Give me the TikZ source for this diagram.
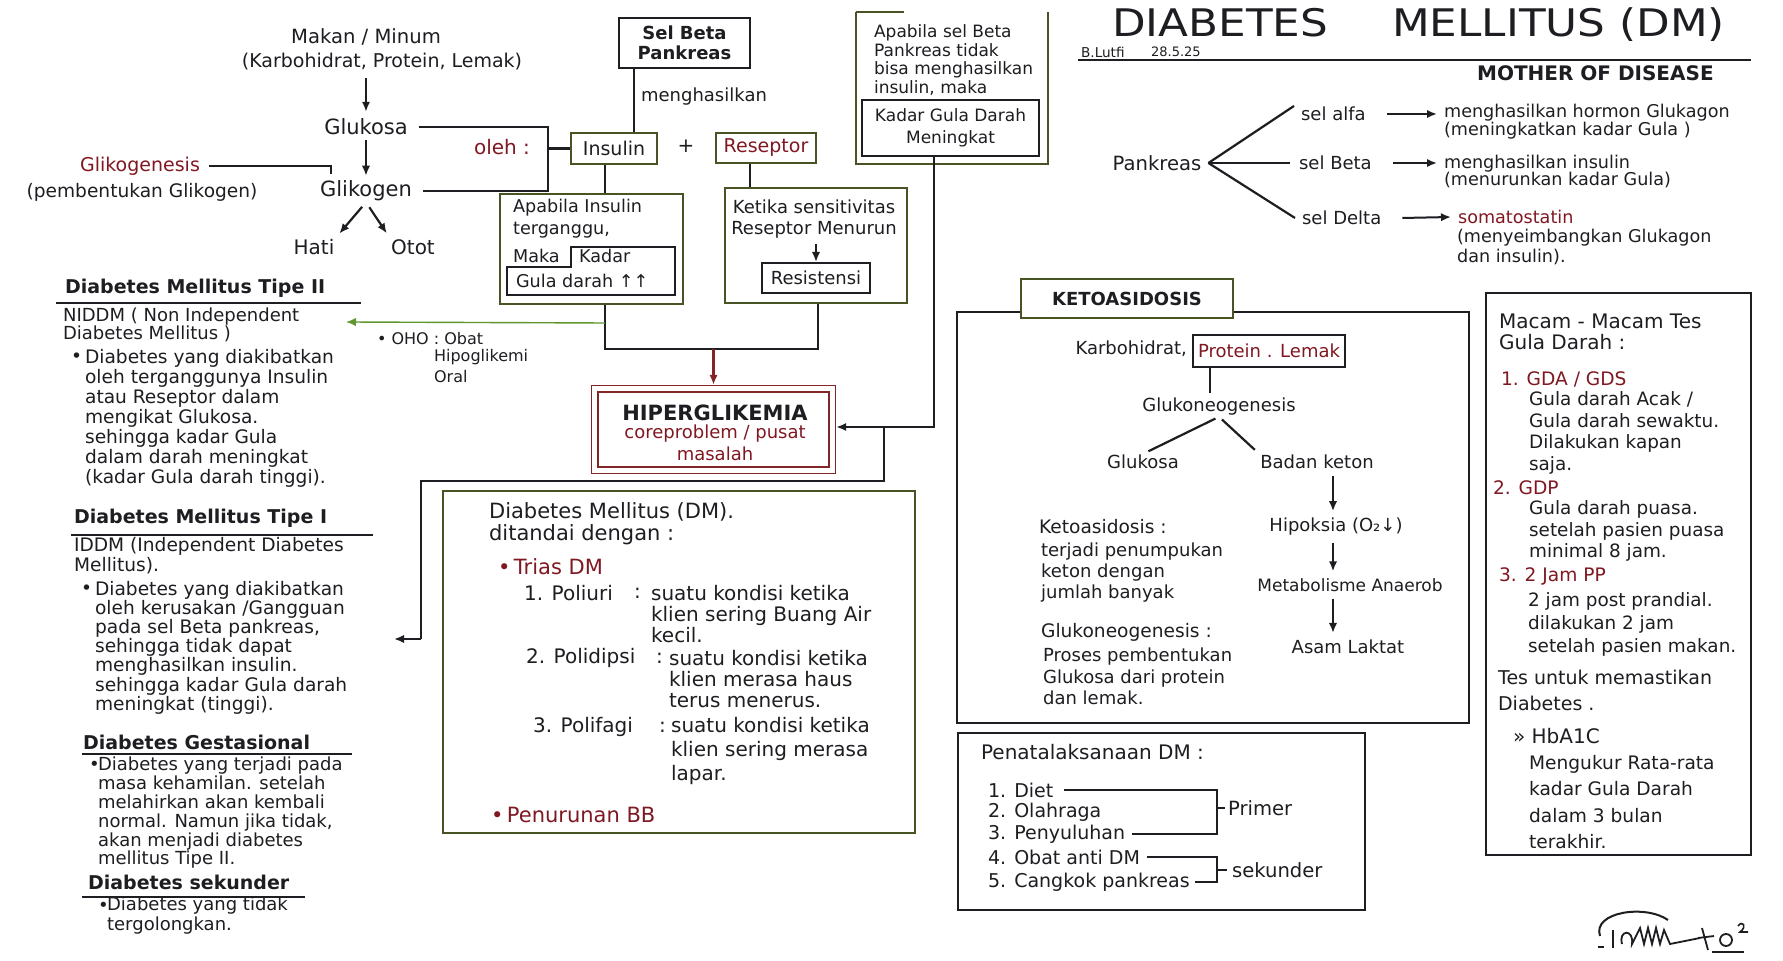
\documentclass[tikz,border=0pt]{standalone}
\usepackage{fontspec}
\setmainfont{DejaVu Sans}
\newfontfamily\titlefont[FakeStretch=1.15]{DejaVu Sans}
\usetikzlibrary{arrows.meta}
\definecolor{ink}{RGB}{30,30,34}
\definecolor{redink}{RGB}{128,24,34}
\definecolor{olive}{RGB}{72,84,36}
\definecolor{hiperred}{RGB}{130,36,40}
\definecolor{grn}{RGB}{96,150,46}
\newcommand{\myfs}[2]{\fontsize{#1}{#2}\selectfont}
\begin{document}
\begin{tikzpicture}[x=0.5pt,y=-0.5pt,color=ink,line width=1.1pt,
  arr/.style={-{Latex[length=5pt,width=4.2pt]}},
  t/.style={inner sep=0pt,anchor=west,font=\myfs{9}{10}},
  tc/.style={t,anchor=center},
  par/.style={t,align=left},
  bx/.style={draw,line width=1pt,inner sep=0pt},
  hd/.style={t,font=\myfs{9.5}{11}\bfseries},
  uline/.style={line width=1.3pt}]
\useasboundingbox (0,0) rectangle (1783,961);
\fill[white] (0,0) rectangle (1783,961);

% ---------- top-left flow ----------
\node[tc,font=\myfs{9.8}{11}] (makanA) at (366,37) {Makan / Minum};
\node[tc,font=\myfs{9.5}{11}] (makanB) at (382,62) {(Karbohidrat, Protein, Lemak)};
\node[tc,font=\myfs{10.5}{12}] (glukosa) at (366,127) {Glukosa};
\node[tc,font=\myfs{10.5}{12}] (glikogen) at (366,191) {Glikogen};
\node[tc,font=\myfs{9.5}{11},text=redink] (glikogenesis) at (140,166) {Glikogenesis};
\node[tc,font=\myfs{9.3}{11}] (pembentukan) at (142,192) {(pembentukan Glikogen)};
\node[tc,font=\myfs{10}{12}] (hati) at (314,247) {Hati};
\node[tc,font=\myfs{10}{12}] (otot) at (413,247) {Otot};
\node[tc,font=\myfs{10}{12},text=redink] (oleh) at (502,147) {oleh :};

\draw[arr,shorten <=3pt,shorten >=3pt] (glukosa.north |- makanB.south) -- (glukosa.north);
\draw[arr,shorten <=2pt,shorten >=2pt] (glukosa.south) -- (glikogen.north);
\draw[arr,shorten <=3pt,shorten >=3pt] (glikogen.south) -- (hati.north east);
\draw[arr,shorten <=3pt,shorten >=3pt] (glikogen.south) -- (otot.north west);
\coordinate (gkEnd) at (331,166);
\draw ([xshift=4pt]glikogenesis.east) -- (gkEnd) -- ++(0,8);

% ---------- insulin / reseptor ----------
\node[bx,minimum width=65.5pt,minimum height=25pt,align=center,font=\myfs{9}{9.8}\bfseries] (selbeta) at (684.5,43) {Sel Beta\\Pankreas};
\node[bx,draw=olive,minimum width=43pt,minimum height=15.5pt,font=\myfs{9.5}{11}] (insulin) at (614,148.5) {Insulin};
\node[tc,font=\myfs{10}{11}] (plus) at (686,146) {+};
\node[bx,draw=olive,minimum width=50pt,minimum height=15pt,font=\myfs{9.5}{11},text=redink] (reseptor) at (766,148) {Reseptor};
\node[t,font=\myfs{9}{10}] (menghasilkan) at (640,97) {menghasilkan};
\coordinate (sbx) at (634,0);
\draw (selbeta.south -| sbx) -- (insulin.north -| sbx);

\coordinate (brk) at (548,0);
\draw ([xshift=5pt]glukosa.east) -- (glukosa.east -| brk) -- (glikogen.east -| brk) -- ([xshift=5pt]glikogen.east);
\draw (insulin.west -| brk) -- (insulin.west);

\node[bx,draw=olive,minimum width=91.5pt,minimum height=55pt] (apins) at (591.5,249) {};
\node[t,font=\myfs{8.8}{10}] (apins1) at (512,208) {Apabila Insulin};
\node[t,font=\myfs{8.8}{10}] (apins2) at (512,230) {terganggu,};
\node[t,font=\myfs{8.8}{10}] (maka) at (512,256) {Maka};
\node[t,font=\myfs{8.8}{10}] (kadar1) at (578,256) {Kadar};
\node[t,font=\myfs{8.8}{10}] (kadar2) at (515,281) {Gula darah ↑↑};
\draw[line width=1pt] (571,247) -- (675,247) -- (675,295) -- (507,295) -- (507,267) -- (571,267) -- cycle;
\coordinate (c605) at (605,0);
\draw (insulin.south -| c605) -- (apins.north -| c605);

\node[bx,draw=olive,minimum width=91pt,minimum height=57.5pt] (ketika) at (816,245.5) {};
\node[tc,font=\myfs{9}{10}] (ket1) at (814,207) {Ketika sensitivitas};
\node[tc,font=\myfs{9}{10}] (ket2) at (814,230) {Reseptor Menurun};
\node[bx,minimum width=54pt,minimum height=15pt,font=\myfs{9}{10}] (resist) at (816,278) {Resistensi};
\draw[arr,shorten <=2pt] (ket2.south -| resist.north) -- (resist.north);
\coordinate (c750) at (750,0);
\draw (reseptor.south -| c750) -- (ketika.north -| c750);

% ---------- sel beta tidak box ----------
\node[inner sep=0pt,minimum width=95pt,minimum height=75pt] (tidak) at (952,88) {};
\draw[olive,line width=1pt] (tidak.north west) -- (tidak.south west) -- (tidak.south east) -- (tidak.north east);
\draw[olive,line width=1pt] (tidak.north west) -- ([xshift=24pt]tidak.north west);
\node[par,font=\myfs{8.5}{9.3}] (tidakT) at (873,60) {Apabila sel Beta\\Pankreas tidak\\bisa menghasilkan\\insulin, maka};
\node[bx,minimum width=88.5pt,minimum height=28pt,align=center,font=\myfs{8.5}{11}] (kgdm) at (950.5,128) {Kadar Gula Darah\\Meningkat};

% ---------- hiperglikemia ----------
\node[draw=hiperred,double=white,double distance=2.5pt,line width=0.7pt,minimum width=118.8pt,minimum height=40.8pt,inner sep=0pt] (hiper) at (713.5,429.5) {};
\node[tc,font=\myfs{10.5}{12}\bfseries] (hiperT) at (715,413) {HIPERGLIKEMIA};
\node[tc,font=\myfs{9}{10},text=redink] (hiperS) at (715,434) {coreproblem / pusat};
\node[tc,font=\myfs{9}{10},text=redink] (hiperM) at (715,454) {masalah};

\coordinate (j1) at (605,349);
\coordinate (j2) at (818,349);
\draw (apins.south -| j1) -- (j1) -- (j2) -- (ketika.south -| j2);
\draw[arr,draw=hiperred,shorten >=1.6pt] (j1 -| hiper.north) -- (hiper.north);

\coordinate (g1) at (605,323);
\coordinate (gend) at (346,322);
\draw[arr,grn,line width=0.7pt] (g1) -- (gend);
\node[t,font=\myfs{8}{9}] (oho1) at (376,339) {• OHO : Obat};
\node[t,font=\myfs{8}{9}] (oho2) at (433,357) {Hipoglikemi};
\node[t,font=\myfs{8}{9}] (oho3) at (433,377) {Oral};

\coordinate (k1) at (934,427);
\draw[arr,shorten >=1.6pt] (kgdm.south -| k1) -- (k1) -- (k1 -| hiper.east);
\coordinate (h1) at (884,481);
\coordinate (h2) at (421,481);
\coordinate (h3) at (421,639);
\coordinate (t1end) at (394,639);
\draw (k1 -| h1) -- (h1) -- (h2) -- (h3);
\draw[arr] (h3) -- (t1end);

% ---------- left column ----------
\node[hd] (hTwo) at (64,288) {Diabetes Mellitus Tipe II};
\draw[uline] (56,303) -- (361,303);
\node[par,font=\myfs{9}{9}] (niddm) at (62,325) {NIDDM ( Non Independent\\Diabetes Mellitus )};
\node[t,font=\myfs{9.3}{10}] (bTwo) at (70,358) {•};
\node[par,font=\myfs{9.3}{10}] (tipe2) at (84,418) {Diabetes yang diakibatkan\\oleh terganggunya Insulin\\atau Reseptor dalam\\mengikat Glukosa.\\sehingga kadar Gula\\dalam darah meningkat\\(kadar Gula darah tinggi).};

\node[hd] (hOne) at (73,518) {Diabetes Mellitus Tipe I};
\draw[uline] (71,535) -- (373,535);
\node[par,font=\myfs{9.3}{9}] (iddm) at (73,556) {IDDM (Independent Diabetes\\Mellitus).};
\node[t,font=\myfs{9.3}{10}] (bOne) at (80,590) {•};
\node[par,font=\myfs{9.3}{9.6}] (tipe1) at (94,647.5) {Diabetes yang diakibatkan\\oleh kerusakan /Gangguan\\pada sel Beta pankreas,\\sehingga tidak dapat\\menghasilkan insulin.\\sehingga kadar Gula darah\\meningkat (tinggi).};

\node[hd] (hGes) at (82,742) {Diabetes Gestasional};
\draw[uline] (82,754) -- (352,754);
\node[t] (bGes) at (88,766) {•};
\node[par,font=\myfs{9}{9.4}] (gest) at (97,813) {Diabetes yang terjadi pada\\masa kehamilan. setelah\\melahirkan akan kembali\\normal. Namun jika tidak,\\akan menjadi diabetes\\mellitus Tipe II.};

\node[hd] (hSek) at (87,882) {Diabetes sekunder};
\draw[uline] (82,897) -- (305,897);
\node[t] (bSek) at (97,907) {•};
\node[par,font=\myfs{9}{8.5}] (sekP) at (106,915.5) {Diabetes yang tidak\\tergolongkan.};

% ---------- DM box ----------
\node[bx,draw=olive,minimum width=236pt,minimum height=171pt] (dmbox) at (679,662) {};
\node[par,font=\myfs{10.5}{11}] (dmA) at (488,524) {Diabetes Mellitus (DM).\\ditandai dengan :};
\node[t,font=\myfs{10.5}{12},text=redink] (trias) at (497,567) {•\,Trias DM};
\node[t,font=\myfs{10}{11}] (p1) at (523,593) {1. Poliuri};
\node[t,font=\myfs{10}{11}] (p1c) at (633,593) {:};
\node[par,font=\myfs{10}{10.7}] (p1t) at (650,614) {suatu kondisi ketika\\klien sering Buang Air\\kecil.};
\node[t,font=\myfs{10}{11}] (p2) at (525,658) {2. Polidipsi};
\node[t,font=\myfs{10}{11}] (p2c) at (655,658) {:};
\node[par,font=\myfs{10}{10.7}] (p2t) at (668,679) {suatu kondisi ketika\\klien merasa haus\\terus menerus.};
\node[t,font=\myfs{10}{11}] (p3) at (532,727) {3. Polifagi};
\node[t,font=\myfs{10}{11}] (p3c) at (658,727) {:};
\node[par,font=\myfs{10}{12}] (p3t) at (670,751) {suatu kondisi ketika\\klien sering merasa\\lapar.};
\node[t,font=\myfs{10.5}{12},text=redink] (bb) at (490,815) {•\,Penurunan BB};

% ---------- title ----------
\node[inner sep=0pt,anchor=base west,font=\titlefont\myfs{19}{21}] (titleA) at (1111,37) {DIABETES};
\node[inner sep=0pt,anchor=base west,font=\titlefont\myfs{19}{21}] (titleB) at (1391,37) {MELLITUS (DM)};
\node[t,font=\myfs{6.8}{8}] (lutfi) at (1080,52) {B.Lutfi};
\node[t,font=\myfs{6.5}{8}] (tanggal) at (1150,52) {28.5.25};
\draw[line width=1.4pt] (1078,60) -- (1751,60);
\node[t,font=\myfs{10}{11}\bfseries] (mother) at (1476,73) {MOTHER OF DISEASE};

% ---------- pankreas ----------
\node[tc,font=\myfs{9.8}{11}] (pank) at (1157,163) {Pankreas};
\node[t] (alfa) at (1300,114) {sel alfa};
\node[t] (beta) at (1298,163) {sel Beta};
\node[t] (delta) at (1301,218) {sel Delta};
\draw ([xshift=3pt]pank.east) -- ([xshift=-3pt]alfa.north west);
\draw ([xshift=3pt]pank.east) -- ([xshift=-4pt]beta.west);
\draw ([xshift=3pt]pank.east) -- ([xshift=-3pt]delta.west);
\node[par,font=\myfs{8.8}{8.7}] (mOne) at (1443,121.5) {menghasilkan hormon Glukagon\\(meningkatkan kadar Gula )};
\node[par,font=\myfs{8.8}{8.7}] (mTwo) at (1443,171.5) {menghasilkan insulin\\(menurunkan kadar Gula)};
\node[t,font=\myfs{8.8}{10},text=redink] (som) at (1457,217) {somatostatin};
\node[par,font=\myfs{8.8}{10}] (somT) at (1456,247) {(menyeimbangkan Glukagon\\dan insulin).};
\draw[arr,line width=1pt] ([xshift=10pt]alfa.east) -- ([xshift=-3pt]alfa.east -| mOne.west);
\draw[arr,line width=1pt] ([xshift=10pt]beta.east) -- ([xshift=-3pt]beta.east -| mTwo.west);
\draw[arr,line width=1pt] ([xshift=10pt]delta.east) -- ([xshift=-3pt]som.west);

% ---------- ketoasidosis ----------
\node[bx,draw=olive,minimum width=106pt,minimum height=19.5pt,font=\myfs{9}{10}\bfseries] (ktitle) at (1127,298.5) {KETOASIDOSIS};
\coordinate (ko1) at (957,312);
\coordinate (ko2) at (1469,723);
\draw[line width=1.1pt] (ktitle.west |- ko1) -- (ko1) -- (ko1 |- ko2) -- (ko2) -- (ko2 |- ko1) -- (ktitle.east |- ko1);
\node[t,anchor=east,font=\myfs{9}{10}] (karbo) at (1188,349) {Karbohidrat,};
\node[bx,minimum width=76pt,minimum height=16pt,font=\myfs{9}{10},text=redink] (protein) at (1269,351) {Protein . Lemak};
\node[tc,font=\myfs{9}{10}] (gng) at (1219,407) {Glukoneogenesis};
\coordinate (c1210) at (1210,0);
\draw[shorten >=2pt] (protein.south -| c1210) -- (gng.north -| c1210);
\node[tc,font=\myfs{9}{10}] (glk2) at (1143,462) {Glukosa};
\node[tc,font=\myfs{9}{10}] (badan) at (1317,462) {Badan keton};
\draw[shorten <=2pt,shorten >=3pt] (gng.south) -- (glk2.north);
\draw[shorten <=2pt,shorten >=3pt] (gng.south) -- (badan.north west);
\node[tc,font=\myfs{9}{10}] (hipo) at (1336,527) {Hipoksia (O₂↓)};
\node[tc,font=\myfs{8.5}{10}] (meta) at (1350,585) {Metabolisme Anaerob};
\node[tc,font=\myfs{9}{10}] (asam) at (1348,647) {Asam Laktat};
\coordinate (c1333) at (1333,0);
\draw[arr,shorten <=3pt,shorten >=3pt] (badan.south -| c1333) -- (hipo.north -| c1333);
\draw[arr,shorten <=3pt,shorten >=3pt] (hipo.south -| c1333) -- (meta.north -| c1333);
\draw[arr,shorten <=3pt,shorten >=3pt] (meta.south -| c1333) -- (asam.north -| c1333);
\node[t,font=\myfs{9.3}{10.5}] (ketoT) at (1038,527) {Ketoasidosis :};
\node[par,font=\myfs{9}{10.3}] (ketoP) at (1040,572.5) {terjadi penumpukan\\keton dengan\\jumlah banyak};
\node[t,font=\myfs{9.3}{10.5}] (gngT) at (1040,632) {Glukoneogenesis :};
\node[par,font=\myfs{9}{10.7}] (gngP) at (1042,676.5) {Proses pembentukan\\Glukosa dari protein\\dan lemak.};

% ---------- penatalaksanaan ----------
\node[bx,minimum width=203.5pt,minimum height=88.5pt] (pbox) at (1161.5,821.5) {};
\node[t,font=\myfs{10}{11}] (pA) at (980,752) {Penatalaksanaan DM :};
\node[t,font=\myfs{9.5}{11}] (dOne) at (987,790) {1. Diet};
\node[t,font=\myfs{9.5}{11}] (dTwo) at (987,812) {2. Olahraga};
\node[t,font=\myfs{9.5}{11}] (dThree) at (987,834) {3. Penyuluhan};
\node[t,font=\myfs{9.5}{11}] (dFour) at (987,857) {4. Obat anti DM};
\node[t,font=\myfs{9.5}{11}] (dFive) at (987,882) {5. Cangkok pankreas};
\coordinate (pb) at (1217,0);
\draw ([xshift=5pt]dOne.east) -- (dOne.east -| pb) -- (dThree.east -| pb) -- ([xshift=3pt]dThree.east);
\draw ([xshift=3pt]dFour.east) -- (dFour.east -| pb) -- (dFive.east -| pb) -- ([xshift=2pt]dFive.east);
\node[t,font=\myfs{9.8}{11}] (primer) at (1227,808) {Primer};
\node[t,font=\myfs{9.8}{11}] (sekunder) at (1231,870) {sekunder};
\draw (primer.west -| pb) -- ([xshift=-1pt]primer.west);
\draw (sekunder.west -| pb) -- ([xshift=-2pt]sekunder.west);

% ---------- tes gula darah ----------
\node[bx,minimum width=132.5pt,minimum height=280.5pt] (tes) at (1618.5,574) {};
\node[par,font=\myfs{10}{10.5}] (tesA) at (1498,332) {Macam - Macam Tes\\Gula Darah :};
\node[t,font=\myfs{9.3}{10},text=redink] (gda) at (1500,379) {1. GDA / GDS};
\node[par,font=\myfs{9.2}{10.7}] (gdaT) at (1528,433) {Gula darah Acak /\\Gula darah sewaktu.\\Dilakukan kapan\\saja.};
\node[t,font=\myfs{9.3}{10},text=redink] (gdp) at (1492,488) {2. GDP};
\node[par,font=\myfs{9.2}{10.7}] (gdpT) at (1528,531) {Gula darah puasa.\\setelah pasien puasa\\minimal 8 jam.};
\node[t,font=\myfs{9.3}{10},text=redink] (pp) at (1498,576) {3. 2 Jam PP};
\node[par,font=\myfs{9.2}{11.5}] (ppT) at (1527,624) {2 jam post prandial.\\dilakukan 2 jam\\setelah pasien makan.};
\node[par,font=\myfs{9.5}{13}] (tesU) at (1497,690) {Tes untuk memastikan\\Diabetes .};
\node[t,font=\myfs{10}{11}] (hba) at (1512,736) {» HbA1C};
\node[par,font=\myfs{9.3}{13.2}] (hbaT) at (1528,802) {Mengukur Rata-rata\\kadar Gula Darah\\dalam 3 bulan\\terakhir.};

% ---------- signature ----------
\draw[line width=1pt] (1600,936) .. controls (1592,912) and (1645,904) .. (1668,920);
\draw[line width=1pt] (1598,947) -- (1604,947);
\draw[line width=1pt] (1613,930) -- (1613,948);
\draw[line width=0.9pt] (1622,944) .. controls (1618,930) and (1634,928) .. (1632,944) -- (1640,928) -- (1644,944) -- (1648,928) -- (1652,944) -- (1656,928) -- (1660,944) -- (1664,930) -- (1670,944) -- (1700,938);
\draw[line width=0.9pt] (1702,928) -- (1708,950) (1698,938) -- (1714,936);
\draw[line width=0.9pt] (1726,940) circle[radius=6];
\draw[line width=0.9pt] (1712,952) -- (1744,952);
\draw[line width=0.8pt] (1738,926) .. controls (1742,920) and (1748,926) .. (1740,932) -- (1748,932);
\end{tikzpicture}
\end{document}
